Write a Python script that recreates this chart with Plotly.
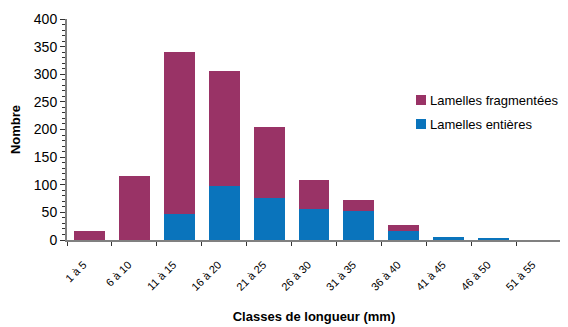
import plotly.graph_objects as go

categories = ["1 à 5", "6 à 10", "11 à 15", "16 à 20", "21 à 25", "26 à 30",
              "31 à 35", "36 à 40", "41 à 45", "46 à 50", "51 à 55"]
entieres = [0, 0, 47, 97, 76, 57, 53, 17, 6, 2.5, 0]
fragmentees = [17, 115, 293, 208, 128, 51, 20, 11, 0, 0, 0]
series_names = ["Lamelles fragmentées", "Lamelles entières"]

PURPLE = "#993366"
BLUE = "#0A74BC"
FONT = "Liberation Sans, Arial, sans-serif"

# page body has an 8px default margin, so figure is offset by 8px on screen
OFF = 8
W, H = 568 - OFF, 327 - OFF
ML, MR, MT, MB = 67 - OFF, 7, 19 - OFF, 87
PW, PH = W - ML - MR, H - MT - MB

fig = go.Figure()
fig.add_trace(go.Bar(x=categories, y=entieres, name=series_names[1], showlegend=False,
                     marker=dict(color=BLUE, line=dict(width=0))))
fig.add_trace(go.Bar(x=categories, y=fragmentees, name=series_names[0], showlegend=False,
                     marker=dict(color=PURPLE, line=dict(width=0))))

# custom legend (screen pixels converted to paper coordinates)
def px(x):
    return (x - OFF - ML) / PW

def py(y):
    return (H - MB - (y - OFF)) / PH

for name, color, ytop in [(series_names[0], PURPLE, 95), (series_names[1], BLUE, 119)]:
    fig.add_shape(type="rect", xref="paper", yref="paper",
                  x0=px(416), x1=px(426), y0=py(ytop + 10), y1=py(ytop),
                  fillcolor=color, line=dict(width=0))
    fig.add_annotation(xref="paper", yref="paper", x=px(428), y=py(ytop + 5),
                       xanchor="left", yanchor="middle", showarrow=False,
                       text=name, font=dict(size=13, family=FONT, color="black"))

fig.update_layout(
    width=W, height=H,
    barmode="stack", bargap=0.31,
    margin=dict(l=ML, r=MR, t=MT, b=MB, autoexpand=False),
    paper_bgcolor="white", plot_bgcolor="white",
    font=dict(family=FONT, color="black"),
    showlegend=False,
)
fig.update_xaxes(
    type="category", tickangle=-45, tickson="boundaries", automargin=False,
    ticks="outside", ticklen=4, tickcolor="#333",
    ticklabelstandoff=12, ticklabelshift=-6,
    showline=True, linecolor="#808080", linewidth=2,
    tickfont=dict(size=11, family=FONT),
    title=dict(text="<b>Classes de longueur (mm)</b>", font=dict(size=13, family=FONT), standoff=20),
    showgrid=False,
)
fig.update_yaxes(
    range=[0, 400], dtick=50, ticks="outside", ticklen=5, tickcolor="#333", automargin=False,
    minor=dict(dtick=10, ticks="outside", ticklen=3, tickcolor="#333"),
    showline=True, linecolor="#808080", linewidth=2,
    tickfont=dict(size=14, family=FONT),
    title=dict(text="<b>Nombre</b>", font=dict(size=13, family=FONT), standoff=10),
    showgrid=False, zeroline=False,
)

fig.write_html("out.html")
